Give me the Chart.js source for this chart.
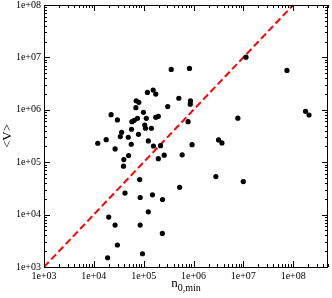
<!DOCTYPE html>
<html>
<head>
<meta charset="utf-8">
<script src="https://cdn.jsdelivr.net/npm/chart.js@4.4.0/dist/chart.umd.min.js"></script>
<style>
html,body{margin:0;padding:0;background:#fff;}
#wrap{width:332px;height:298px;}
</style>
</head>
<body>
<div id="wrap"><canvas id="chart" width="332" height="298"></canvas></div>
<script>
// Axis ranges and decade tick labels
const xRange = [1e3, 5e8];
const yRange = [1e3, 1e8];
const xDecades = [1e3, 1e4, 1e5, 1e6, 1e7, 1e8];
const yDecades = [1e3, 1e4, 1e5, 1e6, 1e7, 1e8];

// Scatter data: n_0,min vs <V>
const nMin = [1.19e5,1.55e5,1.75e5,7.08e4,8.0e4,6.98e4,3.04e5,2.22e4,9.9e4,2.97e4,5.82e4,6.47e4,7.52e4,1.13e5,1.75e5,1.97e5,1.05e5,1.09e5,1.43e5,3.61e4,3.4e4,5.71e4,7.87e4,4.91e4,1.77e4,1.2e4,5.64e4,1.24e5,1.57e5,2.67e4,2.18e5,
  4.98e4,4.0e4,3.94e4,1.97e5,2.58e5,8.32e4,4.22e4,8.51e4,1.5e5,2.39e5,1.24e5,1.99e4,2.67e4,8.51e4,2.37e5,2.97e4,1.89e4,9.46e4,
  3.57e5,8.3e5,1.13e7,7.5e7,5.08e5,8.69e5,8.61e5,7.78e5,7.76e6,1.77e8,2.08e8,9.35e5,3.18e6,3.72e6,5.92e5,2.81e6,5.27e5,9.98e6];
const meanV = [2.15e6,2.38e6,2.0e6,1.49e6,1.39e6,1.10e6,1.15e6,8.07e5,8.95e5,6.4e5,5.93e5,6.31e5,6.89e5,6.89e5,7.2e5,7.52e5,5.13e5,4.45e5,4.45e5,3.73e5,3.08e5,4.25e5,3.41e5,2.99e5,2.69e5,2.30e5,2.2e5,2.55e5,2.04e5,1.79e5,2.07e5,
  1.34e5,1.12e5,8.4e4,1.17e5,1.36e5,4.67e4,2.57e4,2.12e4,2.38e4,1.94e4,1.13e4,8.96e3,6.31e3,6.31e3,4.37e3,2.63e3,1.5e3,1.79e3,
  5.9e6,6.17e6,1.01e7,5.65e6,1.66e6,1.48e6,1.28e6,5.93e5,6.92e5,9.36e5,7.96e5,2.16e5,2.66e5,2.33e5,1.38e5,5.32e4,3.31e4,4.26e4];

// y = x reference line
const diagonal = [1e3, 1e8];

const serif = '"Liberation Serif","DejaVu Serif",serif';

function expLabel(v){
    const e = Math.round(Math.log10(v));
    return '1e+' + String(e).padStart(2,'0');
}

// inward ticks on all four sides plus the frame, xmgrace style
const frameTicks = {
    id:'frameTicks',
    afterDraw(chart){
        const {ctx, chartArea:a, scales} = chart;
        const xs = scales.x, ys = scales.y;
        ctx.save();
        ctx.strokeStyle = '#000';
        ctx.lineWidth = 1;
        ctx.beginPath();
        xDecades.forEach(d=>{
            for(let m=1;m<=9;m++){
                const v = m*d;
                if(v>xRange[1]) break;
                const p = Math.round(xs.getPixelForValue(v))+0.5;
                const len = m===1 ? 6 : 3;
                ctx.moveTo(p, a.bottom); ctx.lineTo(p, a.bottom-len);
                ctx.moveTo(p, a.top); ctx.lineTo(p, a.top+len);
            }
        });
        yDecades.forEach(d=>{
            for(let m=1;m<=9;m++){
                const v = m*d;
                if(v>yRange[1]) break;
                const p = Math.round(ys.getPixelForValue(v))+0.5;
                const len = m===1 ? 6 : 3;
                ctx.moveTo(a.left, p); ctx.lineTo(a.left+len, p);
                ctx.moveTo(a.right, p); ctx.lineTo(a.right-len, p);
            }
        });
        ctx.stroke();
        ctx.strokeRect(Math.round(a.left)+0.5, Math.round(a.top)+0.5, Math.round(a.right-a.left)-1, Math.round(a.bottom-a.top));

        // x axis title with subscript
        ctx.fillStyle = '#000';
        ctx.textBaseline = 'alphabetic';
        ctx.font = '13px ' + serif;
        const wn = ctx.measureText('n').width;
        ctx.font = '10px ' + serif;
        const ws = ctx.measureText('0,min').width;
        const x0 = (a.left+a.right)/2 - (wn+ws)/2;
        ctx.font = '13px ' + serif;
        ctx.fillText('n', x0, 287);
        ctx.font = '10px ' + serif;
        ctx.fillText('0,min', x0+wn, 291);
        ctx.restore();
    }
};

const ctx = document.getElementById('chart').getContext('2d');
new Chart(ctx, {
    type:'scatter',
    data:{
        datasets:[
            {type:'scatter',label:'data',data:nMin.map((x,i)=>({x:x,y:meanV[i]})),backgroundColor:'#000',borderWidth:0,pointRadius:2.6,order:1},
            {type:'line',label:'y=x',data:diagonal.map(v=>({x:v,y:v})),borderColor:'#ff0000',borderWidth:2,borderDash:[7,3.5],pointRadius:0,fill:false,order:2}
        ]
    },
    options:{
        responsive:false,animation:false,devicePixelRatio:1,
        layout:{padding:{top:5,right:2,left:0,bottom:0}},
        plugins:{legend:{display:false},tooltip:{enabled:false}},
        scales:{
            x:{type:'logarithmic',min:xRange[0],max:xRange[1],
                grid:{display:false,drawTicks:false},border:{display:false},
                afterBuildTicks:s=>{s.ticks = xDecades.map(v=>({value:v}));},
                afterFit:s=>{s.height=31;s.paddingLeft=0;s.paddingRight=0;},
                ticks:{autoSkip:false,maxRotation:0,padding:3,color:'#000',font:{family:serif,size:10},callback:v=>expLabel(v)}
            },
            y:{type:'logarithmic',min:yRange[0],max:yRange[1],
                grid:{display:false,drawTicks:false},border:{display:false},
                afterBuildTicks:s=>{s.ticks = yDecades.map(v=>({value:v}));},
                afterFit:s=>{s.width=44;s.paddingTop=0;s.paddingBottom=0;},
                title:{display:true,text:'<V>',color:'#000',font:{family:serif,size:13},padding:0},
                ticks:{autoSkip:false,padding:3,color:'#000',font:{family:serif,size:10},callback:v=>expLabel(v)}
            }
        }
    },
    plugins:[frameTicks]
});
</script>
</body>
</html>
